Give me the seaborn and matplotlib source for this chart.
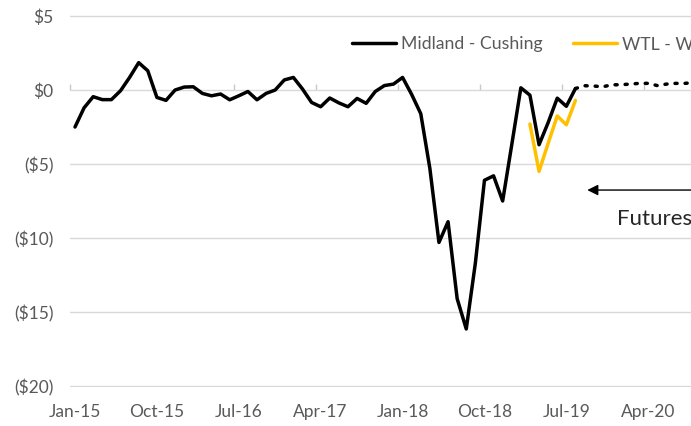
import numpy as np
import pandas as pd
import seaborn as sns
import matplotlib.pyplot as plt

sns.set_style("white")
plt.rcParams["font.family"] = ["Lato", "DejaVu Sans"]

# monthly axis, Jan-15 onwards
months = pd.date_range("2015-01-01", periods=72, freq="MS")

# Midland - Cushing spread, Jan-15 .. Aug-19 ($/bbl)
midland_cushing = [
    -2.5, -1.2, -0.45, -0.65, -0.65, -0.05, 0.85, 1.85, 1.3, -0.5,
    -0.7, 0.0, 0.2, 0.22, -0.23, -0.39, -0.27, -0.66, -0.39, -0.1,
    -0.66, -0.23, 0.0, 0.68, 0.85, 0.07, -0.84, -1.13, -0.54, -0.87,
    -1.13, -0.57, -0.9, -0.1, 0.3, 0.4, 0.85, -0.3, -1.6, -5.3,
    -10.3, -8.9, -14.1, -16.15, -11.7, -6.1, -5.8, -7.5, -3.7, 0.15,
    -0.35, -3.7, -2.2, -0.55, -1.1, 0.1,
]
# futures strip, Aug-19 onwards
futures = [0.1, 0.29, 0.27, 0.22, 0.35, 0.36, 0.4, 0.45, 0.45, 0.3,
           0.4, 0.45, 0.45, 0.5, 0.5, 0.5]
# WTL - WTI, Mar-19 .. Aug-19
wtl_wti = [-2.3, -5.5, -3.6, -1.75, -2.35, -0.7]

hist = pd.DataFrame({"pos": np.arange(len(midland_cushing)), "spread": midland_cushing})
fut_start = months.get_loc(pd.Timestamp("2019-08-01"))
fut = pd.DataFrame({"pos": np.arange(len(futures)) + fut_start, "spread": futures})
wtl_start = months.get_loc(pd.Timestamp("2019-03-01"))
wtl = pd.DataFrame({"pos": np.arange(len(wtl_wti)) + wtl_start, "spread": wtl_wti})

tick_pos = np.arange(0, 64, 9)
tick_labels = [months[i].strftime("%b-%y") for i in tick_pos]
y_ticks = [5, 0, -5, -10, -15, -20]
y_labels = ["$5", "$0", "($5)", "($10)", "($15)", "($20)"]

fig = plt.figure(figsize=(6.91, 4.26), dpi=100)
ax = fig.add_axes([70 / 691, 39 / 426, 621 / 691, 372 / 426])
ylim = (-20.07, 5.07)

sns.lineplot(data=hist, x="pos", y="spread", color="black", lw=2.5, ax=ax,
             label="Midland - Cushing")
sns.lineplot(data=wtl, x="pos", y="spread", color="#FFC000", lw=2.5, ax=ax,
             label="WTL - WTI")
sns.lineplot(data=fut, x="pos", y="spread", color="black", lw=2.5, ax=ax,
             linestyle=(0, (0.6, 2.3)), dash_capstyle="round", legend=False)

ax.set_xlim(-0.55, 67.7)
ax.set_ylim(*ylim)
ax.set_xticks(tick_pos, tick_labels)
ax.set_yticks(y_ticks, y_labels)
ax.set_xlabel("")
ax.set_ylabel("")
ax.grid(axis="y", color="#d9d9d9", lw=1)
ax.grid(axis="x", visible=False)
ax.set_axisbelow(True)
for s in ax.spines.values():
    s.set_visible(False)
ax.tick_params(axis="both", length=0, labelsize=12.5, colors="#595959")
ax.tick_params(axis="y", pad=12)
ax.tick_params(axis="x", pad=12)

# category tick marks on the zero line
sec = ax.secondary_xaxis((0 - ylim[0]) / (ylim[1] - ylim[0]))
sec.set_xticks(np.arange(-0.5, 70, 9), labels=[])
sec.tick_params(direction="out", length=4, color="#c8c8c8", width=1)
for s in sec.spines.values():
    s.set_visible(False)

ax.annotate("", xy=(56.3, -6.76), xytext=(75, -6.76),
            arrowprops=dict(arrowstyle="-|>", color="black", lw=1,
                            mutation_scale=16, shrinkA=0, shrinkB=0))
ax.text(59.6, -8.75, "Futures", fontsize=16, va="center", color="#262626")

ax.legend(loc="center left", bbox_to_anchor=(352 / 691, 1 - 44.5 / 426),
          bbox_transform=fig.transFigure, ncol=2, frameon=False, fontsize=12.7,
          handlelength=2.5, handletextpad=0.3, columnspacing=1.7,
          borderpad=0, borderaxespad=0, labelcolor="#595959")

fig.savefig("out.png", dpi=100)
